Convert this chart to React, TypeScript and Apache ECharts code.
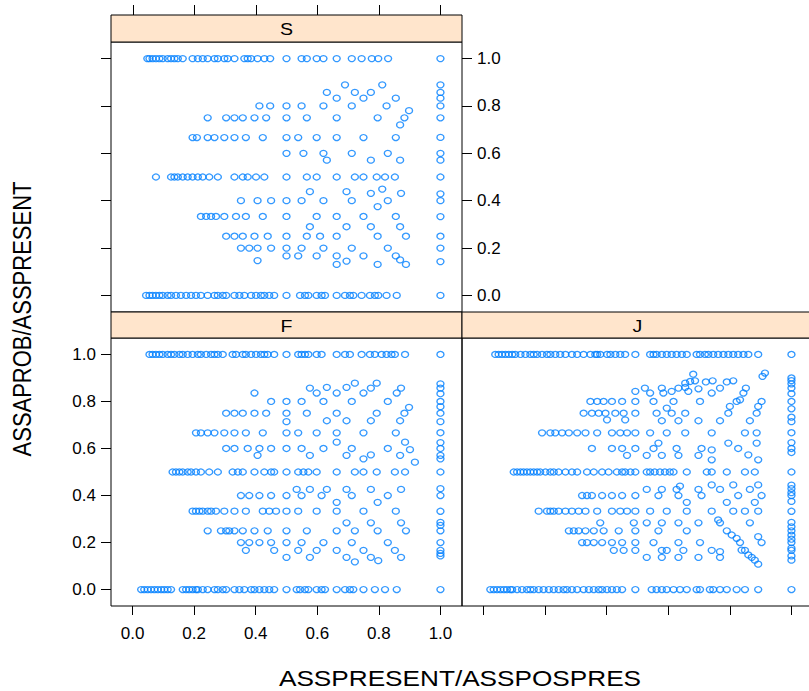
import React, { useEffect, useRef } from "react";
import * as echarts from "echarts";

const TICKS = [0, 0.2, 0.4, 0.6, 0.8, 1.0];
const AX_MIN = -0.07;
const AX_MAX = 1.07;
const X_TITLE = "ASSPRESENT/ASSPOSPRES";
const Y_TITLE = "ASSAPROB/ASSPRESENT";
const PANEL_NAMES = ["S", "F", "J"];

// ---------- Panel S ----------
const S_Y1 = [0.048,0.055,0.065,0.076,0.087,0.098,0.114,0.125,0.136,0.147,0.163,0.195,0.212,0.228,0.244,0.266,0.277,0.298,0.309,0.331,0.363,0.374,0.385,0.406,0.428,0.447,0.5,0.549,0.566,0.598,0.62,0.663,0.712,0.744,0.777,0.798,0.83];
const S_Y0 = [0.044,0.055,0.065,0.076,0.087,0.098,0.114,0.125,0.141,0.157,0.174,0.19,0.206,0.222,0.244,0.266,0.277,0.293,0.304,0.331,0.347,0.363,0.385,0.401,0.417,0.428,0.444,0.46,0.5,0.544,0.56,0.571,0.598,0.614,0.625,0.663,0.69,0.706,0.717,0.744,0.771,0.787,0.798,0.825,0.858];
const S_Y50 = [0.076,0.125,0.136,0.147,0.163,0.179,0.195,0.212,0.228,0.249,0.277,0.331,0.358,0.374,0.401,0.428,0.5,0.566,0.598,0.663,0.722,0.75,0.793,0.82,0.852];
const S_Y67 = [0.195,0.209,0.244,0.266,0.298,0.331,0.368,0.423,0.5,0.538,0.598,0.663,0.75,0.855];
const S_Y33 = [0.222,0.239,0.255,0.271,0.298,0.336,0.368,0.423,0.5,0.598,0.663,0.75,0.855];
const S_Y75 = [0.244,0.304,0.331,0.358,0.396,0.434,0.5,0.566,0.663,0.796,0.883];
const S_Y25 = [0.304,0.331,0.358,0.396,0.439,0.5,0.566,0.609,0.663,0.796,0.888];
const S_Y80 = [0.412,0.447,0.5,0.549,0.62,0.712,0.825];
const S_Y60 = [0.5,0.555,0.62,0.712,0.829];
const S_Y40 = [0.352,0.406,0.45,0.5,0.549,0.62,0.712,0.829];
const S_Y20 = [0.352,0.379,0.406,0.45,0.5,0.549,0.62,0.712,0.829];
const S_Y17 = [0.5,0.538,0.598,0.663,0.75,0.855];
const S_X1 = [1,0.889,0.857,0.833,0.8,0.75,0.667,0.6,0.571,0.5,0.429,0.4,0.333,0.25,0.2,0.143,0];
const S_OTHER: [number, number][] = [[0.69,0.889],[0.722,0.857],[0.811,0.889],[0.631,0.857],[0.774,0.857],[0.663,0.833],[0.75,0.833],[0.855,0.833],[0.898,0.78],[0.869,0.72],[0.631,0.571],[0.774,0.571],[0.869,0.571],[0.576,0.438],[0.695,0.438],[0.774,0.431],[0.811,0.449],[0.872,0.431],[0.796,0.375],[0.576,0.29],[0.695,0.29],[0.774,0.29],[0.869,0.29],[0.406,0.147],[0.869,0.15],[0.888,0.131],[0.695,0.145],[0.663,0.131],[0.796,0.131]];

// ---------- Panel F ----------
const F_Y1 = [0.055,0.065,0.076,0.087,0.098,0.114,0.125,0.136,0.152,0.163,0.179,0.195,0.212,0.222,0.239,0.255,0.266,0.277,0.293,0.325,0.336,0.358,0.368,0.385,0.401,0.417,0.428,0.439,0.46,0.5,0.538,0.549,0.56,0.571,0.598,0.614,0.663,0.69,0.706,0.744,0.771,0.787,0.809,0.825,0.841,0.852,0.885];
const F_Y0 = [0.028,0.038,0.049,0.06,0.071,0.082,0.093,0.103,0.114,0.125,0.163,0.174,0.184,0.195,0.206,0.212,0.228,0.244,0.266,0.277,0.293,0.304,0.331,0.347,0.363,0.385,0.396,0.412,0.428,0.444,0.46,0.5,0.533,0.544,0.56,0.571,0.598,0.614,0.625,0.663,0.69,0.706,0.717,0.75,0.787,0.82,0.858];
const F_Y50 = [0.13,0.141,0.152,0.163,0.179,0.19,0.206,0.222,0.249,0.277,0.325,0.342,0.358,0.396,0.428,0.45,0.46,0.5,0.538,0.555,0.571,0.598,0.663,0.722,0.75,0.793,0.852,0.885];
const F_Y67 = [0.206,0.222,0.244,0.266,0.298,0.331,0.368,0.423,0.5,0.538,0.598,0.663,0.75,0.855];
const F_Y33 = [0.195,0.206,0.217,0.228,0.244,0.255,0.271,0.298,0.331,0.368,0.423,0.444,0.466,0.5,0.538,0.598,0.663,0.75,0.855];
const F_Y75 = [0.304,0.331,0.358,0.396,0.434,0.5,0.566,0.663,0.793,0.883];
const F_Y25 = [0.244,0.287,0.304,0.314,0.331,0.358,0.396,0.439,0.5,0.566,0.663,0.722,0.796,0.888];
const F_Y80 = [0.45,0.5,0.549,0.62,0.712,0.829];
const F_Y60 = [0.304,0.331,0.374,0.412,0.45,0.5,0.549,0.62,0.712,0.829];
const F_Y40 = [0.352,0.379,0.412,0.45,0.5,0.549,0.614,0.712,0.829];
const F_Y20 = [0.352,0.379,0.412,0.45,0.5,0.549,0.62,0.712,0.829];
const F_Y17 = [0.368,0.46,0.538,0.598,0.663,0.75,0.852];
const F_X1 = [1,0.875,0.857,0.833,0.8,0.778,0.75,0.714,0.667,0.625,0.6,0.571,0.556,0.5,0.429,0.4,0.333,0.286,0.273,0.25,0.2,0.167,0.154,0.143,0];
const F_OTHER: [number, number][] = [[0.576,0.857],[0.598,0.836],[0.631,0.86],[0.663,0.836],[0.695,0.86],[0.722,0.878],[0.75,0.836],[0.774,0.857],[0.793,0.878],[0.858,0.836],[0.872,0.857],[0.396,0.836],[0.898,0.775],[0.869,0.718],[0.631,0.718],[0.695,0.718],[0.774,0.718],[0.5,0.714],[0.663,0.627],[0.885,0.627],[0.901,0.595],[0.406,0.571],[0.576,0.571],[0.695,0.571],[0.75,0.556],[0.774,0.573],[0.869,0.571],[0.917,0.542],[0.533,0.426],[0.576,0.426],[0.631,0.426],[0.695,0.426],[0.774,0.426],[0.872,0.426],[0.663,0.371],[0.796,0.371],[0.695,0.284],[0.774,0.284],[0.872,0.284],[0.5,0.137],[0.576,0.137],[0.695,0.137],[0.722,0.118],[0.774,0.137],[0.798,0.123],[0.872,0.137]];

// ---------- Panel J ----------
const J_Y1 = [0.038,0.049,0.06,0.071,0.082,0.093,0.103,0.12,0.136,0.152,0.163,0.174,0.19,0.206,0.217,0.233,0.249,0.266,0.287,0.304,0.325,0.347,0.363,0.369,0.379,0.401,0.412,0.428,0.444,0.46,0.493,0.541,0.552,0.562,0.579,0.595,0.611,0.627,0.644,0.66,0.692,0.703,0.719,0.73,0.746,0.762,0.779,0.795,0.811,0.827,0.844,0.86,0.892];
const J_Y0 = [0.022,0.033,0.044,0.055,0.066,0.076,0.087,0.093,0.109,0.125,0.141,0.152,0.163,0.179,0.195,0.212,0.228,0.244,0.26,0.271,0.287,0.304,0.325,0.342,0.358,0.374,0.385,0.401,0.417,0.433,0.45,0.493,0.546,0.562,0.579,0.595,0.617,0.638,0.66,0.692,0.703,0.735,0.746,0.768,0.79,0.822,0.849,0.892];
const J_Y50 = [0.098,0.109,0.12,0.13,0.141,0.152,0.163,0.174,0.184,0.201,0.217,0.228,0.244,0.266,0.287,0.304,0.336,0.358,0.385,0.406,0.433,0.45,0.46,0.477,0.493,0.53,0.541,0.556,0.573,0.589,0.605,0.617,0.66,0.725,0.741,0.79,0.849,0.881];
const J_Y67 = [0.19,0.217,0.233,0.255,0.277,0.304,0.331,0.369,0.417,0.444,0.466,0.493,0.541,0.595,0.655,0.741,0.849,0.887];
const J_Y33 = [0.179,0.206,0.217,0.228,0.244,0.266,0.287,0.309,0.331,0.369,0.417,0.444,0.466,0.493,0.541,0.595,0.66,0.741,0.811,0.849,0.892];
const J_Y75 = [0.325,0.352,0.374,0.396,0.428,0.455,0.493,0.562,0.611,0.655,0.795,0.887];
const J_Y25 = [0.277,0.293,0.309,0.331,0.358,0.39,0.439,0.493,0.568,0.66,0.79];
const J_Y80 = [0.347,0.369,0.39,0.417,0.45,0.493,0.552,0.617,0.703,0.822,0.903];
const J_Y60 = [0.352,0.417,0.45,0.493,0.552,0.627,0.708,0.827];
const J_Y40 = [0.32,0.336,0.352,0.385,0.417,0.45,0.493,0.568,0.633,0.708,0.827,0.903];
const J_Y20 = [0.32,0.336,0.358,0.385,0.417,0.45,0.493,0.552,0.633,0.703,0.833,0.903];
const J_Y17 = [0.423,0.455,0.493,0.579,0.595,0.649,0.741,0.849];
const J_X1 = [1,0.9,0.889,0.875,0.857,0.833,0.8,0.769,0.733,0.714,0.667,0.625,0.6,0.583,0.5,0.444,0.429,0.412,0.4,0.375,0.333,0.286,0.267,0.25,0.231,0.214,0.2,0.176,0.167,0.143,0.125,0];
const J_OTHER: [number, number][] = [[0.681,0.916],[0.671,0.885],[0.655,0.878],[0.687,0.888],[0.722,0.883],[0.744,0.888],[0.79,0.883],[0.811,0.888],[0.914,0.921],[0.906,0.907],[0.524,0.857],[0.579,0.857],[0.633,0.857],[0.655,0.86],[0.698,0.854],[0.768,0.857],[0.852,0.857],[0.541,0.836],[0.584,0.836],[0.611,0.843],[0.665,0.843],[0.741,0.836],[0.844,0.836],[0.493,0.843],[0.833,0.807],[0.595,0.772],[0.8,0.779],[0.892,0.779],[0.401,0.722],[0.46,0.722],[0.579,0.718],[0.633,0.718],[0.698,0.718],[0.768,0.718],[0.865,0.718],[0.568,0.623],[0.795,0.623],[0.887,0.623],[0.466,0.571],[0.53,0.571],[0.579,0.571],[0.633,0.571],[0.698,0.571],[0.741,0.594],[0.741,0.552],[0.86,0.573],[0.892,0.552],[0.53,0.426],[0.579,0.426],[0.627,0.426],[0.638,0.44],[0.698,0.426],[0.741,0.445],[0.768,0.426],[0.811,0.445],[0.865,0.426],[0.892,0.445],[0.66,0.371],[0.79,0.371],[0.881,0.371],[0.379,0.284],[0.488,0.284],[0.762,0.296],[0.768,0.284],[0.53,0.284],[0.579,0.284],[0.633,0.284],[0.698,0.284],[0.865,0.284],[0.806,0.232],[0.822,0.218],[0.892,0.225],[0.768,0.161],[0.838,0.168],[0.53,0.137],[0.579,0.137],[0.633,0.137],[0.698,0.137],[0.768,0.137],[0.86,0.147],[0.871,0.137],[0.881,0.125],[0.892,0.108]];

type Pt = [number, number];
function buildPanel(rows: [number, number[]][], colX1: number[], other: Pt[]): Pt[] {
  const pts: Pt[] = [];
  rows.forEach(([y, xs]) => xs.forEach((x) => pts.push([x, y])));
  colX1.forEach((y) => pts.push([1, y]));
  other.forEach((p) => pts.push(p));
  return pts;
}

const S_POINTS = buildPanel(
  [[1, S_Y1], [0, S_Y0], [0.5, S_Y50], [2 / 3, S_Y67], [1 / 3, S_Y33], [0.75, S_Y75], [0.25, S_Y25], [0.8, S_Y80], [0.6, S_Y60], [0.4, S_Y40], [0.2, S_Y20], [1 / 6, S_Y17]],
  S_X1, S_OTHER
);
const F_POINTS = buildPanel(
  [[1, F_Y1], [0, F_Y0], [0.5, F_Y50], [2 / 3, F_Y67], [1 / 3, F_Y33], [0.75, F_Y75], [0.25, F_Y25], [0.8, F_Y80], [0.6, F_Y60], [0.4, F_Y40], [0.2, F_Y20], [1 / 6, F_Y17]],
  F_X1, F_OTHER
);
const J_POINTS = buildPanel(
  [[1, J_Y1], [0, J_Y0], [0.5, J_Y50], [2 / 3, J_Y67], [1 / 3, J_Y33], [0.75, J_Y75], [0.25, J_Y25], [0.8, J_Y80], [0.6, J_Y60], [0.4, J_Y40], [0.2, J_Y20], [1 / 6, J_Y17]],
  J_X1, J_OTHER
);

const FONT = "Liberation Sans, Arial, sans-serif";
const BLUE = "#0080ff";
const STRIP = "#ffe5cc";

export default function App() {
  const ref = useRef<HTMLDivElement>(null);
  useEffect(() => {
    if (!ref.current) return;
    const chart = echarts.init(ref.current, null, { renderer: "svg" });

    const xTick = { show: true, inside: false, length: 9, customValues: TICKS, lineStyle: { color: "#000", width: 1 } };
    const yTick = { show: true, inside: false, length: 10, customValues: TICKS, lineStyle: { color: "#000", width: 1 } };
    const labelStyle = {
      show: true,
      customValues: TICKS,
      formatter: (v: number) => v.toFixed(1),
      color: "#000",
      fontSize: 17,
      fontFamily: FONT,
    };
    const baseAxis = {
      type: "value" as const,
      min: AX_MIN,
      max: AX_MAX,
      splitLine: { show: false },
      axisLine: { show: false, onZero: false },
    };

    const gridRects = [
      { left: 111, top: 42, width: 351, height: 270 },
      { left: 111, top: 338, width: 351, height: 268 },
      { left: 462, top: 338, width: 351, height: 268 },
    ];
    const grids = gridRects.map((g) => ({ ...g, show: true, borderColor: "#000", borderWidth: 1, backgroundColor: "transparent", outerBoundsMode: "none", containLabel: false }));

    const scatter = (data: Pt[], xi: number, yi: number) => ({
      type: "scatter",
      xAxisIndex: xi,
      yAxisIndex: yi,
      data,
      symbol: "circle",
      symbolSize: [7, 6],
      itemStyle: { color: "transparent", borderColor: BLUE, borderWidth: 1.3 },
      silent: true,
    });

    chart.setOption({
      animation: false,
      grid: grids,
      xAxis: [
        { ...baseAxis, gridIndex: 0, position: "bottom", axisTick: { show: false }, axisLabel: { show: false } },
        { ...baseAxis, gridIndex: 1, position: "bottom", axisTick: xTick, axisLabel: { ...labelStyle, margin: 19 } },
        { ...baseAxis, gridIndex: 2, position: "bottom", axisTick: xTick, axisLabel: { show: false } },
      ],
      yAxis: [
        { ...baseAxis, gridIndex: 0, position: "left", axisTick: yTick, axisLabel: { show: false } },
        { ...baseAxis, gridIndex: 0, position: "right", axisTick: yTick, axisLabel: { ...labelStyle, margin: 15 } },
        { ...baseAxis, gridIndex: 1, position: "left", axisTick: yTick, axisLabel: { ...labelStyle, margin: 15 } },
        { ...baseAxis, gridIndex: 2, position: "left", axisTick: { show: false }, axisLabel: { show: false } },
      ],
      series: [
        scatter(S_POINTS, 0, 0),
        scatter(F_POINTS, 1, 2),
        scatter(J_POINTS, 2, 3),
      ],
    });

    // top tick marks of column 1, above the S strip, placed through the S panel's x scale
    const toPx = (v: number): number => {
      let p: any = null;
      try {
        p = chart.convertToPixel({ seriesIndex: 0 }, [v, 0]);
      } catch (e) {
        p = null;
      }
      let x = Array.isArray(p) ? p[0] : typeof p === "number" ? p : NaN;
      if (!isFinite(x)) {
        const g = gridRects[0];
        x = g.left + ((v - AX_MIN) / (AX_MAX - AX_MIN)) * g.width;
      }
      return Math.round(x) + 0.5;
    };
    const topTicks = TICKS.map((v) => {
      const px = toPx(v);
      return {
        type: "line",
        z: 100,
        shape: { x1: px, y1: 5, x2: px, y2: 15 },
        style: { stroke: "#000", lineWidth: 1 },
      };
    });

    const stripText = (t: string, x: number, y: number) => ({
      type: "text", x, y, scaleX: 1.15, z: 10,
      style: { text: t, font: `17px ${FONT}`, fill: "#000", textAlign: "center", textVerticalAlign: "middle" },
    });

    chart.setOption({
      graphic: [
        { type: "rect", z: 5, shape: { x: 111, y: 15, width: 351, height: 27 }, style: { fill: STRIP, stroke: "#000", lineWidth: 1 } },
        { type: "rect", z: 5, shape: { x: 111, y: 312, width: 351, height: 26 }, style: { fill: STRIP, stroke: "#000", lineWidth: 1 } },
        { type: "rect", z: 5, shape: { x: 462, y: 312, width: 351, height: 26 }, style: { fill: STRIP, stroke: "#000", lineWidth: 1 } },
        stripText(PANEL_NAMES[0], 286.5, 29),
        stripText(PANEL_NAMES[1], 286.5, 325.5),
        stripText(PANEL_NAMES[2], 637.5, 325.5),
        ...topTicks,
        {
          type: "text", x: 460, y: 678, scaleX: 1.19,
          style: { text: X_TITLE, font: `22px ${FONT}`, fill: "#000", textAlign: "center", textVerticalAlign: "middle" },
        },
        {
          type: "group", x: 22, y: 319, scaleX: 1.2,
          children: [
            {
              type: "text", x: 0, y: 0, rotation: Math.PI / 2,
              style: { text: Y_TITLE, font: `22px ${FONT}`, fill: "#000", textAlign: "center", textVerticalAlign: "middle" },
            },
          ],
        },
      ],
    });
    return () => chart.dispose();
  }, []);
  return (
    <div
      ref={ref}
      style={{ position: "fixed", left: 0, top: 0, width: 809, height: 691, background: "#fff" }}
    />
  );
}
